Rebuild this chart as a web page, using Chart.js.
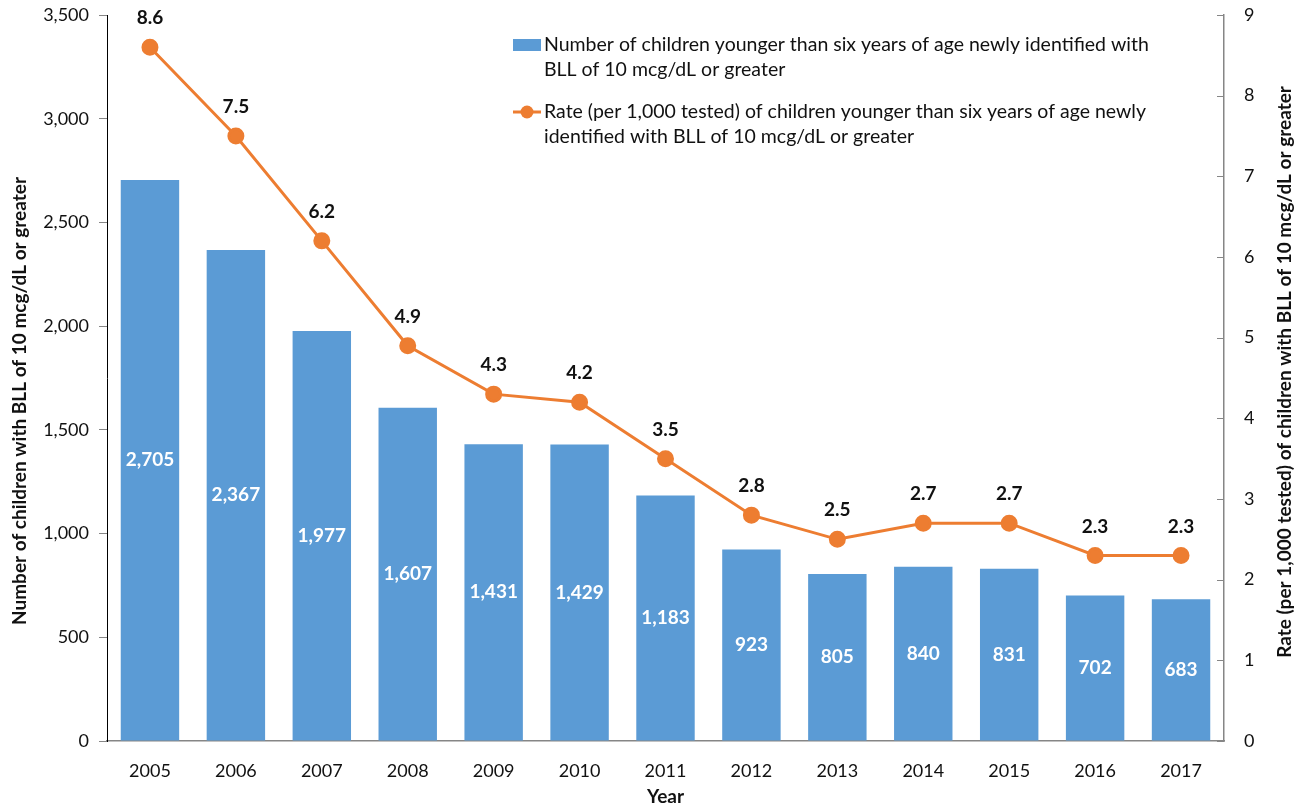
<!DOCTYPE html>
<html>
<head>
<meta charset="utf-8">
<title>Children with elevated blood lead levels</title>
<script src="https://cdn.jsdelivr.net/npm/chart.js@4/dist/chart.umd.min.js"></script>
<style>
    html, body { margin: 0; padding: 0; background: #fff; }
    #wrap { width: 1305px; height: 808px; }
</style>
</head>
<body>
<div id="wrap"><canvas id="chart" width="1305" height="808"></canvas></div>
<script>
// Data
const years = ['2005', '2006', '2007', '2008', '2009', '2010', '2011', '2012', '2013', '2014', '2015', '2016', '2017'];
const childCounts = [2705, 2367, 1977, 1607, 1431, 1429, 1183, 923, 805, 840, 831, 702, 683];
const ratePer1000 = [8.6, 7.5, 6.2, 4.9, 4.3, 4.2, 3.5, 2.8, 2.5, 2.7, 2.7, 2.3, 2.3];
const countTicks = [0, 500, 1000, 1500, 2000, 2500, 3000, 3500];
const rateTicks = [0, 1, 2, 3, 4, 5, 6, 7, 8, 9];

const countLabel = 'Number of children younger than six years of age newly identified with BLL of 10 mcg/dL or greater';
const rateLabel = 'Rate (per 1,000 tested) of children younger than six years of age newly identified with BLL of 10 mcg/dL or greater';

const BLUE = '#5B9BD5';
const ORANGE = '#ED7D31';
const FONT = 'Lato, "Open Sans", sans-serif';

// value labels on bars and points
const valueLabels = {
    id: 'valueLabels',
    afterDatasetsDraw(chart) {
        const ctx = chart.ctx;
        ctx.save();
        ctx.font = 'bold 19px ' + FONT;
        ctx.textAlign = 'center';
        ctx.textBaseline = 'middle';

        chart.getDatasetMeta(1).data.forEach((bar, i) => {
            ctx.fillStyle = '#fff';
            ctx.fillText(childCounts[i].toLocaleString('en-US'), bar.x, (bar.y + bar.base) / 2);
        });

        chart.getDatasetMeta(0).data.forEach((pt, i) => {
            ctx.fillStyle = '#111';
            ctx.fillText(ratePer1000[i].toFixed(1), pt.x, pt.y - 29);
        });
        ctx.restore();
    }
};

// legend, axis titles, inward ticks on right axis
const decorations = {
    id: 'decorations',
    afterDraw(chart) {
        const ctx = chart.ctx;
        const area = chart.chartArea;
        ctx.save();

        // right axis inward tick marks
        const y1 = chart.scales.y1;
        ctx.strokeStyle = '#868686';
        ctx.lineWidth = 1;
        rateTicks.forEach(v => {
            const y = Math.round(y1.getPixelForValue(v)) + 0.5;
            ctx.beginPath();
            ctx.moveTo(area.right - 7, y);
            ctx.lineTo(area.right, y);
            ctx.stroke();
        });

        // axis titles
        ctx.fillStyle = '#111';
        ctx.font = 'bold 19px ' + FONT;
        ctx.textAlign = 'center';
        ctx.textBaseline = 'middle';
        ctx.fillText('Year', (area.left + area.right) / 2, 797);

        ctx.save();
        ctx.translate(20, 401);
        ctx.rotate(-Math.PI / 2);
        ctx.fillText('Number of children with BLL of 10 mcg/dL or greater', 0, 0);
        ctx.restore();

        ctx.save();
        ctx.translate(1285, 372);
        ctx.rotate(-Math.PI / 2);
        ctx.fillText('Rate (per 1,000 tested) of children with BLL of 10 mcg/dL or greater', 0, 0);
        ctx.restore();

        // legend
        ctx.font = '19.5px ' + FONT;
        ctx.textAlign = 'left';
        ctx.fillStyle = BLUE;
        ctx.fillRect(513, 39, 28, 12);
        ctx.fillStyle = '#111';
        ctx.fillText('Number of children younger than six years of age newly identified with', 544, 45);
        ctx.fillText('BLL of 10 mcg/dL or greater', 544, 70);

        ctx.strokeStyle = ORANGE;
        ctx.lineWidth = 3;
        ctx.beginPath();
        ctx.moveTo(513, 112);
        ctx.lineTo(541, 112);
        ctx.stroke();
        ctx.fillStyle = ORANGE;
        ctx.beginPath();
        ctx.arc(527, 112, 6.5, 0, Math.PI * 2);
        ctx.fill();
        ctx.fillStyle = '#111';
        ctx.fillText('Rate (per 1,000 tested) of children younger than six years of age newly', 544, 112);
        ctx.fillText('identified with BLL of 10 mcg/dL or greater', 544, 137);

        ctx.restore();
    }
};

function noPad(scale) {
    scale.paddingTop = 0;
    scale.paddingBottom = 0;
    scale.paddingLeft = 0;
    scale.paddingRight = 0;
}

const ctx = document.getElementById('chart').getContext('2d');
new Chart(ctx, {
    data: {
        labels: years,
        datasets: [{
            type: 'line',
            label: rateLabel,
            data: ratePer1000,
            yAxisID: 'y1',
            borderColor: ORANGE,
            backgroundColor: ORANGE,
            borderWidth: 3,
            pointRadius: 7,
            pointHoverRadius: 7,
            pointBackgroundColor: ORANGE,
            pointBorderColor: ORANGE,
            tension: 0,
            order: 0
        }, {
            type: 'bar',
            label: countLabel,
            data: childCounts,
            yAxisID: 'y',
            backgroundColor: BLUE,
            borderWidth: 0,
            categoryPercentage: 1,
            barPercentage: 0.68,
            order: 1
        }]
    },
    options: {
        responsive: false,
        animation: false,
        layout: { padding: { top: 15, left: 0, right: 0, bottom: 0 } },
        plugins: {
            legend: { display: false },
            tooltip: { enabled: false }
        },
        scales: {
            x: {
                offset: true,
                grid: { display: false },
                border: { display: true, color: '#868686', width: 1.5 },
                ticks: { color: '#111', font: { family: FONT, size: 18 }, padding: 11, maxRotation: 0 },
                afterFit(scale) { scale.height = 67; noPad(scale); }
            },
            y: {
                position: 'left',
                min: 0,
                max: 3500,
                afterBuildTicks(scale) { scale.ticks = countTicks.map(v => ({ value: v })); },
                grid: { drawOnChartArea: false, drawTicks: true, tickLength: 8, color: '#868686' },
                border: { display: true, color: '#000', width: 1 },
                ticks: {
                    color: '#111',
                    font: { family: FONT, size: 18 },
                    padding: 10,
                    callback: v => v.toLocaleString('en-US')
                },
                afterFit(scale) { scale.width = 107; noPad(scale); }
            },
            y1: {
                position: 'right',
                min: 0,
                max: 9,
                afterBuildTicks(scale) { scale.ticks = rateTicks.map(v => ({ value: v })); },
                grid: { drawOnChartArea: false, drawTicks: false },
                border: { display: true, color: '#868686', width: 1.5 },
                ticks: { color: '#111', font: { family: FONT, size: 18 }, padding: 20 },
                afterFit(scale) { scale.width = 81; noPad(scale); }
            }
        }
    },
    plugins: [valueLabels, decorations]
});
</script>
</body>
</html>
